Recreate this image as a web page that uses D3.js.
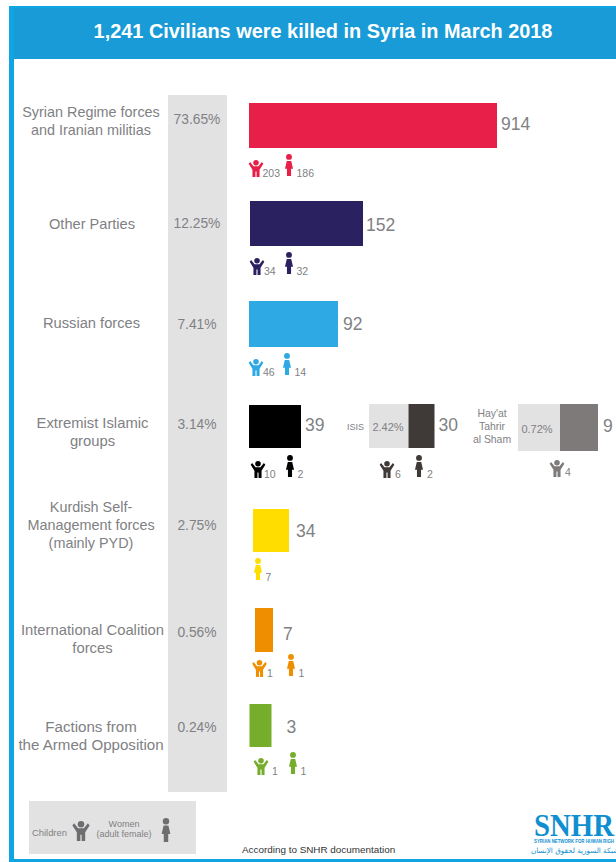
<!DOCTYPE html>
<html>
<head>
<meta charset="utf-8">
<script src="https://cdn.jsdelivr.net/npm/d3@7"></script>
<style>
  html, body { margin: 0; padding: 0; background: #fff; }
  svg { display: block; font-family: "Liberation Sans", Arial, sans-serif; }
</style>
</head>
<body>
<svg id="chart" width="616" height="862"></svg>
<script>
/* Civilian deaths by perpetrator, March 2018. */

const TITLE = "1,241 Civilians were killed in Syria in March 2018";

const categories = ["regime", "other", "russia", "extremist", "kurdish", "coalition", "opposition"];
const categoryLines = [
  ["Syrian Regime forces", "and Iranian militias"],
  ["Other Parties"],
  ["Russian forces"],
  ["Extremist Islamic", "groups"],
  ["Kurdish Self-", "Management forces", "(mainly PYD)"],
  ["International Coalition", "forces"],
  ["Factions from", "the Armed Opposition"]
];
const percents = ["73.65%", "12.25%", "7.41%", "3.14%", "2.75%", "0.56%", "0.24%"];
const totals = [914, 152, 92, 39, 34, 7, 3];
const children = [203, 34, 46, 10, null, 1, 1];
const women = [186, 32, 14, 2, 7, 1, 1];
const colors = ["#e81f48", "#2a2260", "#2ea9e3", "#000000", "#ffdd00", "#ef8f00", "#76ad2b"];

// sub-groups of the extremist row
const subNames = ["ISIS", "Hay'at Tahrir al Sham"];
const subPercents = ["2.42%", "0.72%"];
const subTotals = [30, 9];
const subChildren = [6, 4];
const subWomen = [2, null];
const subColors = ["#3f3a38", "#7d7a79"];

const BLUE = "#0ea5e2", HEADER = "#189bd6", GREY = "#e3e2e3", TEXT = "#808184", LOGO = "#0f8fd0";

const svg = d3.select("#chart");

/* ---------- Scales ---------- */

const ordinal = (range) => d3.scaleOrdinal().domain(categories).range(range);

// rows in the source are hand placed, nothing lines up exactly
const rowY = ordinal([103, 201, 301, 405, 509, 608, 704]);
const rowH = ordinal([45, 45, 46, 43, 43, 44, 43]);
const barX = ordinal([249, 250, 249, 249, 253, 255, 249.5]);
const labelMid = ordinal([121, 224, 323, 432, 525, 639, 736]);
const labelX = ordinal([91, 92, 91.5, 92.5, 91, 92.5, 91]);
const labelSize = ordinal([14.4, 14.6, 14.7, 14.8, 14.4, 14.8, 15.1]);
const pctMid = ordinal([119, 223, 324, 424, 525, 632, 727]);
const valueMid = ordinal([124, 225, 324, 425, 531, 634, 727]);
const valueGap = ordinal([4, 3, 5, 4, 7, 10, 15]);
const childX = ordinal([256, 257, 256, 258, 0, 259.5, 261]);
const childGap = ordinal([6.5, 7, 7, 6, 0, 7.5, 11]);
const womanX = ordinal([289, 289, 287, 290, 258, 291, 293]);
const iconTop = ordinal([154, 252, 353, 455, 558, 654, 752]);

// the infographic's bars are not to scale: piecewise scale through the drawn lengths
const barLen = d3.scaleLinear()
  .domain([3, 7, 9, 30, 34, 39, 92, 152, 914])
  .range([22, 18, 38, 26, 36, 52, 89, 113, 248]);

/* ---------- Icons (top-centre at x,y) ---------- */

function childIcon(g, x, y, h, color) {
  const k = h / 22;
  const i = g.append("g").attr("transform", `translate(${x},${y}) scale(${k})`).attr("fill", color);
  i.append("circle").attr("cx", 0).attr("cy", 3.6).attr("r", 3.6);
  i.append("path").attr("d",
    "M-9.5,5 L-7.6,2.6 L-3.2,8 L3.2,8 L7.6,2.6 L9.5,5 L4.6,12.5 L4.6,22 L0.7,22 L0.7,15 L-0.7,15 L-0.7,22 L-4.6,22 L-4.6,12.5 Z");
}

function womanIcon(g, x, y, h, color) {
  const k = h / 30;
  const i = g.append("g").attr("transform", `translate(${x},${y}) scale(${k})`).attr("fill", color);
  i.append("circle").attr("cx", 0).attr("cy", 4).attr("r", 4);
  i.append("path").attr("d",
    "M-3,9.5 L3,9.5 L5.5,20 L2.8,20 L2.8,30 L-2.8,30 L-2.8,20 L-5.5,20 Z");
}

function label(g, x, y, str, size, anchor, fill) {
  return g.append("text").attr("x", x).attr("y", y)
    .attr("font-size", size).attr("text-anchor", anchor || "start")
    .attr("fill", fill || TEXT).text(str);
}

/* ---------- Frame and title ---------- */

svg.append("rect").attr("x", 9).attr("y", 6).attr("width", 607).attr("height", 856).attr("fill", BLUE);
svg.append("rect").attr("x", 14).attr("y", 59).attr("width", 602).attr("height", 800).attr("fill", "#fff");
svg.append("rect").attr("x", 14).attr("y", 8).attr("width", 602).attr("height", 51).attr("fill", HEADER);
svg.append("text").attr("x", 323).attr("y", 38).attr("text-anchor", "middle")
  .attr("fill", "#fff").attr("font-size", 19.9).attr("font-weight", 700).text(TITLE);

svg.append("rect").attr("x", 168).attr("y", 95).attr("width", 59).attr("height", 697).attr("fill", GREY);

/* ---------- Rows ---------- */

const rows = svg.append("g");

categories.forEach((c, i) => {
  const y = rowY(c), h = rowH(c), x0 = barX(c), w = barLen(totals[i]);
  const lines = categoryLines[i];
  lines.forEach((ln, j) => {
    label(rows, labelX(c), labelMid(c) + 5 + (j - (lines.length - 1) / 2) * 18, ln, labelSize(c), "middle");
  });
  label(rows, 197, pctMid(c) + 5, percents[i], 13.8, "middle");

  rows.append("rect").attr("x", x0).attr("y", y).attr("width", w).attr("height", h).attr("fill", colors[i]);
  label(rows, x0 + w + valueGap(c), valueMid(c) + 6, totals[i], 17.5);

  const top = iconTop(c);
  if (children[i] != null) {
    childIcon(rows, childX(c), top + 6, 17, colors[i]);
    label(rows, childX(c) + childGap(c), top + 23, children[i], 10.5);
  }
  if (women[i] != null) {
    womanIcon(rows, womanX(c), top, 22, colors[i]);
    label(rows, womanX(c) + 7.5, top + 23, women[i], 10.5);
  }
});

/* ---------- Extremist sub-bars ---------- */

const subX = d3.scaleOrdinal().domain(subNames).range([369, 518]);
const subGreyW = d3.scaleOrdinal().domain(subNames).range([39.5, 42]);
const subChildX = d3.scaleOrdinal().domain(subNames).range([387, 557]);

subNames.forEach((n, i) => {
  const x = subX(n), gw = subGreyW(n), w = barLen(subTotals[i]);
  const y = 404, h = i ? 47 : 44;
  rows.append("rect").attr("x", x).attr("y", y).attr("width", gw).attr("height", h).attr("fill", GREY);
  rows.append("rect").attr("x", x + gw).attr("y", y).attr("width", w).attr("height", h).attr("fill", subColors[i]);
  label(rows, x + 19, y + 27 + i * 2, subPercents[i], 11, "middle");
  label(rows, x + gw + w + 4 + i, y + 27 + i, subTotals[i], 17.5);

  const cx = subChildX(n);
  childIcon(rows, cx, 461 - i, 17, subColors[i]);
  label(rows, cx + 8, 478 - i * 2, subChildren[i], 10.5);
  if (subWomen[i] != null) {
    womanIcon(rows, 419, 455, 22, subColors[i]);
    label(rows, 427, 478, subWomen[i], 10.5);
  }
});

label(rows, 347, 430, "ISIS", 9, "start");
["Hay'at", "Tahrir", "al Sham"].forEach((t, j) => label(rows, 492, 417 + j * 13, t, 10.4, "middle"));

/* ---------- Legend and footer ---------- */

svg.append("rect").attr("x", 29).attr("y", 801).attr("width", 167).attr("height", 53).attr("fill", GREY);
label(svg, 32, 836, "Children", 9.4, "start", "#7f8082");
childIcon(svg, 81, 821, 20, "#6d6e70");
label(svg, 124, 827, "Women", 9, "middle", "#7f8082");
label(svg, 124, 837, "(adult female)", 9, "middle", "#7f8082");
womanIcon(svg, 166, 818, 24, "#6d6e70");

label(svg, 242, 853, "According to SNHR documentation", 9.9, "start", "#333");

const logo = svg.append("g");
logo.append("text").attr("x", 534).attr("y", 836)
  .attr("font-family", "'Liberation Serif', serif").attr("font-weight", 700)
  .attr("font-size", 32).attr("fill", LOGO)
  .attr("textLength", 80).attr("lengthAdjust", "spacingAndGlyphs").text("SNHR");
logo.append("text").attr("x", 534).attr("y", 843).attr("font-size", 5.4).attr("font-weight", 700)
  .attr("fill", LOGO).attr("textLength", 80).attr("lengthAdjust", "spacingAndGlyphs")
  .text("SYRIAN NETWORK FOR HUMAN RIGH");
logo.append("text").attr("x", 575).attr("y", 853).attr("font-size", 7.2).attr("text-anchor", "middle")
  .attr("font-family", "'DejaVu Sans', sans-serif")
  .attr("fill", LOGO).text("شبكة السورية لحقوق الإنسان");
</script>
</body>
</html>
